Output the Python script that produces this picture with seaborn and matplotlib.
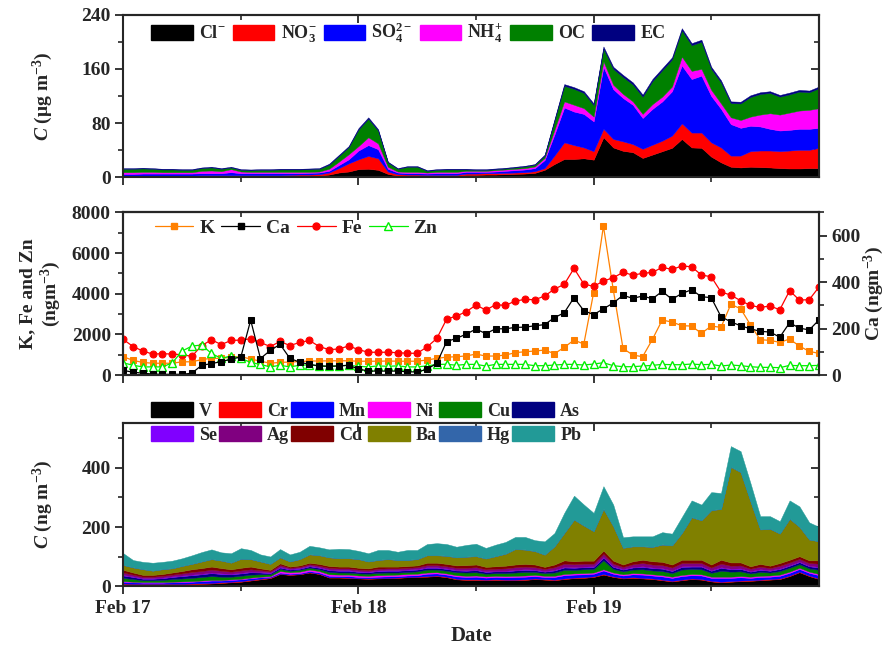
import matplotlib
matplotlib.use('Agg')
import matplotlib.pyplot as plt
import seaborn as sns
from matplotlib.patches import Patch
from matplotlib.lines import Line2D
from matplotlib.ticker import MultipleLocator, FixedLocator, NullFormatter

# ---------------- data (hourly, Feb 17 00:00 .. Feb 19 23:00) ----------------
hours = list(range(72))
day_ticks = [0, 24, 48]
day_labels = ['Feb 17', 'Feb 18', 'Feb 19']

# top panel, ug m-3
cl = [1.0, 1.0, 1.0, 1.0, 1.0, 1.0, 1.0, 1.0, 1.5, 1.5, 1.5, 1.5, 1.5, 1.5, 1.5, 1.5, 1.5, 2.0, 2.0, 2.0,
      2.5, 4.0, 7.0, 8.5, 12.0, 12.5, 11.0, 5.0, 2.5, 2.0, 2.0, 2.0, 2.0, 2.0, 2.0, 3.5, 3.5, 4.0, 4.0, 4.5,
      5.0, 5.5, 6.5, 11.0, 19.5, 27.0, 27.0, 28.0, 26.0, 59.0, 44.0, 39.0, 37.0, 28.5, 33.5, 38.5, 43.5, 56.5, 44.0, 43.5,
      30.5, 22.0, 15.5, 14.5, 15.5, 15.0, 14.5, 13.5, 13.0, 13.0, 13.5, 13.5]
no3 = [1.5, 1.5, 1.5, 1.5, 1.5, 1.5, 1.5, 1.5, 1.5, 1.5, 1.5, 1.5, 1.5, 1.5, 1.5, 1.5, 1.5, 1.5, 2.0, 2.0,
       2.0, 3.0, 6.5, 12.0, 14.5, 19.0, 17.0, 3.5, 2.0, 2.0, 2.0, 1.5, 1.5, 1.5, 1.5, 2.0, 2.0, 2.0, 2.0, 2.0,
       2.0, 2.0, 2.5, 2.5, 12.5, 24.5, 20.5, 16.0, 12.5, 12.5, 12.5, 14.0, 12.0, 13.5, 14.5, 15.5, 18.0, 23.0, 22.0, 22.5,
       21.0, 22.0, 16.5, 17.5, 23.0, 24.5, 25.0, 25.0, 26.5, 27.5, 27.0, 30.0]
so4 = [2.5, 2.5, 3.0, 3.0, 3.0, 3.0, 3.0, 3.0, 3.0, 3.0, 3.0, 4.5, 3.0, 3.0, 3.0, 3.0, 3.0, 2.5, 2.0, 2.5,
       2.5, 2.5, 4.5, 6.0, 13.0, 16.0, 13.5, 4.0, 2.5, 2.0, 2.0, 2.0, 2.5, 2.5, 2.5, 2.5, 2.5, 2.0, 2.5, 3.0,
       3.5, 4.0, 4.5, 12.0, 31.0, 51.5, 49.5, 49.5, 44.0, 91.5, 73.5, 64.0, 58.0, 45.5, 53.0, 58.0, 65.5, 85.5, 79.0, 84.0,
       68.5, 57.0, 46.5, 41.0, 37.5, 35.5, 32.0, 30.5, 30.5, 31.0, 31.0, 29.5]
nh4 = [2.5, 2.5, 2.5, 2.5, 2.0, 2.0, 2.0, 2.0, 3.5, 4.0, 3.0, 4.5, 2.5, 2.0, 2.0, 2.0, 2.0, 2.0, 2.0, 1.5,
       1.5, 3.0, 5.0, 7.5, 6.5, 11.5, 8.5, 3.0, 1.5, 2.0, 2.0, 1.5, 2.0, 2.0, 2.0, 1.5, 1.5, 1.5, 2.0, 2.0,
       2.0, 2.0, 2.5, 3.0, 7.0, 9.0, 10.0, 8.5, 7.0, 8.0, 6.5, 6.0, 5.0, 6.0, 7.0, 7.0, 7.0, 13.0, 12.0, 10.0,
       9.0, 8.0, 10.0, 11.5, 13.5, 17.5, 23.0, 23.5, 25.5, 27.0, 28.0, 29.0]
oc = [5.0, 5.0, 5.0, 4.5, 4.0, 4.0, 3.5, 3.5, 4.0, 4.5, 3.5, 2.5, 2.5, 2.5, 3.0, 3.0, 3.5, 3.5, 3.5, 4.0,
      4.0, 6.0, 8.5, 10.5, 24.5, 27.5, 19.0, 6.5, 4.0, 7.5, 7.5, 2.5, 3.0, 3.5, 3.5, 2.0, 1.5, 1.5, 1.5, 1.5,
      2.0, 2.5, 2.5, 3.5, 13.5, 23.0, 23.5, 22.5, 17.0, 19.0, 23.5, 25.0, 25.0, 25.5, 34.0, 39.0, 40.0, 39.0, 38.0, 40.0,
      31.0, 31.0, 21.0, 24.5, 29.0, 30.5, 30.0, 26.5, 27.0, 28.0, 26.0, 29.5]
ec = [1.0, 1.0, 1.0, 1.0, 1.0, 1.0, 1.0, 1.0, 1.0, 1.0, 1.0, 1.0, 1.0, 1.0, 1.0, 1.0, 1.0, 1.0, 1.0, 1.0,
      1.0, 1.5, 1.5, 1.5, 2.0, 2.0, 2.0, 1.0, 1.0, 1.0, 1.0, 1.0, 1.0, 1.0, 1.0, 1.0, 1.0, 1.0, 1.0, 1.0,
      1.0, 1.0, 1.0, 1.5, 2.0, 2.5, 2.5, 2.5, 2.5, 3.0, 3.0, 3.0, 3.0, 3.0, 3.0, 3.0, 3.0, 3.0, 3.0, 3.0,
      3.0, 3.0, 2.5, 2.5, 2.5, 2.5, 2.5, 2.5, 2.5, 2.5, 2.5, 2.5]

# middle panel, ng m-3
k_vals = [900, 720, 620, 580, 580, 580, 650, 650, 760, 820, 820, 880, 900, 790, 680, 580, 620, 640, 660, 690,
          690, 700, 700, 700, 680, 680, 680, 690, 680, 680, 680, 740, 820, 880, 900, 940, 1030, 934, 934, 983,
          1098, 1147, 1180, 1229, 1049, 1360, 1721, 1524, 4048, 7326, 4212, 1311, 983, 901, 1754, 2704, 2606, 2426, 2409, 2049,
          2409, 2344, 3475, 3262, 2475, 1737, 1705, 1606, 1770, 1426, 1164, 1065]
ca_vals = [20, 12, 8, 4, 3, 3, 3, 8, 42, 49, 58, 68, 78, 236, 71, 106, 132, 72, 55, 46,
           39, 38, 39, 42, 26, 17, 17, 17, 17, 14, 13, 25, 51, 144, 158, 176, 198, 178, 199, 199,
           205, 206, 212, 217, 247, 268, 333, 277, 260, 285, 310, 343, 330, 340, 328, 360, 326, 351, 367, 337,
           333, 251, 229, 212, 199, 188, 185, 163, 225, 202, 194, 237]
fe_vals = [1750, 1400, 1180, 1030, 1050, 1030, 1000, 920, 1450, 1730, 1500, 1700, 1720, 1780, 1600, 1400, 1650, 1450, 1600, 1700,
           1400, 1250, 1280, 1430, 1250, 1120, 1120, 1120, 1100, 1070, 1070, 1380, 1800, 2750, 2901, 3114, 3442, 3196, 3458, 3425,
           3639, 3720, 3704, 3884, 4229, 4458, 5245, 4474, 4360, 4622, 4786, 5048, 4917, 4999, 5048, 5294, 5196, 5360, 5327, 4917,
           4835, 4081, 3934, 3655, 3425, 3327, 3393, 3212, 4147, 3688, 3704, 4327]
zn_vals = [600, 480, 400, 400, 400, 600, 1180, 1420, 1480, 1060, 820, 940, 820, 620, 520, 400, 480, 400, 480, 500,
           450, 420, 450, 480, 430, 400, 450, 430, 450, 400, 400, 450, 520, 530, 480, 524, 524, 443, 524, 524,
           524, 524, 459, 459, 492, 524, 524, 492, 541, 606, 459, 410, 410, 443, 475, 524, 508, 508, 541, 508,
           524, 443, 492, 459, 410, 377, 377, 361, 475, 459, 459, 475]

# bottom panel, ng m-3
v_vals = [8, 7, 7, 7, 7, 7, 7, 8, 9, 10, 12, 14, 16, 20, 24, 28, 42, 39, 41, 47,
          42, 30, 30, 29, 27, 26, 27, 28, 29, 31, 32, 33, 35, 31, 24, 22, 22, 21, 22, 21,
          21, 22, 25, 23, 21, 25, 28, 29, 32, 40, 32, 27, 29, 27, 25, 21, 17, 21, 25, 23,
          17, 14, 16, 18, 19, 21, 23, 25, 35, 48, 35, 25]
cr_vals = [2, 2, 2, 2, 2, 2, 2, 2, 2, 2, 2, 2, 2, 2, 2, 2, 1, 1, 1, 1,
           1, 1, 1, 1, 1, 1, 1, 1, 1, 1, 1, 2, 2, 2, 2, 2, 2, 2, 2, 2,
           2, 2, 2, 2, 2, 2, 2, 2, 2, 2, 2, 2, 2, 2, 2, 2, 2, 2, 2, 2,
           2, 2, 2, 2, 2, 2, 2, 2, 2, 2, 2, 2]
mn_vals = [6, 5, 4, 4, 4, 5, 6, 6, 7, 8, 6, 6, 6, 6, 5, 3, 4, 3, 3, 4,
           4, 5, 4, 5, 4, 4, 5, 5, 5, 5, 5, 8, 7, 7, 8, 8, 9, 7, 8, 8,
           9, 9, 8, 7, 9, 11, 10, 10, 9, 12, 9, 8, 10, 11, 10, 11, 10, 12, 11, 12,
           10, 13, 11, 11, 8, 9, 8, 9, 9, 9, 9, 11]
ni_vals = [2, 2, 2, 2, 2, 2, 2, 2, 2, 2, 2, 2, 2, 2, 2, 2, 5, 5, 5, 5,
           5, 5, 5, 5, 5, 5, 5, 5, 5, 5, 5, 4, 4, 4, 4, 4, 4, 4, 4, 4,
           4, 4, 4, 4, 4, 4, 4, 4, 4, 4, 4, 4, 4, 4, 4, 4, 4, 4, 4, 4,
           4, 4, 4, 4, 4, 4, 4, 4, 4, 4, 4, 4]
cu_vals = [11, 9, 6, 6, 7, 9, 10, 11, 12, 13, 11, 9, 10, 10, 8, 6, 7, 5, 6, 6,
           6, 8, 7, 7, 7, 7, 8, 8, 7, 7, 8, 10, 9, 9, 10, 11, 11, 9, 9, 10,
           11, 12, 10, 9, 11, 14, 12, 13, 12, 30, 12, 10, 12, 14, 13, 14, 12, 18, 17, 17,
           13, 20, 17, 16, 11, 13, 10, 12, 13, 12, 11, 14]
as_vals = [8, 7, 5, 5, 6, 7, 8, 9, 9, 10, 9, 8, 8, 8, 6, 4, 5, 4, 4, 5,
           5, 6, 6, 6, 5, 5, 6, 6, 6, 6, 6, 6, 6, 6, 6, 6, 7, 6, 6, 6,
           7, 7, 6, 5, 7, 8, 7, 7, 7, 9, 7, 6, 7, 8, 8, 8, 7, 9, 8, 9,
           7, 10, 8, 8, 6, 7, 6, 7, 7, 7, 7, 8]
se_vals = [2, 2, 2, 2, 2, 2, 2, 2, 2, 2, 2, 2, 2, 2, 2, 2, 2, 2, 2, 2,
           2, 2, 2, 2, 2, 2, 2, 2, 2, 2, 2, 2, 2, 2, 2, 2, 2, 2, 2, 2,
           2, 2, 2, 2, 2, 2, 2, 2, 2, 2, 2, 2, 2, 2, 2, 2, 2, 2, 2, 2,
           2, 2, 2, 2, 2, 2, 2, 2, 2, 2, 2, 2]
ag_vals = [8, 6, 5, 5, 6, 6, 7, 9, 9, 10, 9, 7, 8, 8, 6, 4, 6, 4, 4, 5,
           5, 6, 6, 6, 6, 5, 6, 6, 6, 6, 6, 7, 7, 7, 7, 8, 8, 7, 7, 8,
           9, 9, 8, 7, 9, 11, 10, 10, 9, 11, 9, 7, 9, 11, 10, 10, 10, 11, 10, 10,
           9, 12, 10, 10, 8, 9, 7, 9, 9, 9, 9, 11]
cd_vals = [9, 7, 6, 6, 6, 7, 8, 9, 10, 10, 9, 8, 9, 9, 6, 5, 6, 4, 5, 5,
           6, 6, 6, 6, 6, 6, 7, 6, 6, 6, 6, 8, 8, 8, 8, 9, 9, 8, 8, 9,
           9, 9, 9, 7, 9, 11, 10, 10, 10, 11, 10, 8, 10, 11, 11, 11, 10, 11, 11, 11,
           10, 13, 11, 10, 8, 9, 8, 9, 9, 9, 9, 11]
ba_vals = [16, 17, 19, 14, 16, 14, 17, 18, 22, 25, 25, 22, 30, 25, 23, 20, 20, 17, 21, 28,
           29, 29, 28, 28, 29, 23, 22, 25, 22, 20, 21, 25, 25, 27, 27, 28, 28, 28, 34, 40,
           52, 48, 45, 41, 61, 92, 140, 118, 99, 140, 116, 56, 50, 45, 48, 58, 64, 90, 143, 133,
           183, 171, 322, 304, 219, 116, 124, 99, 138, 99, 70, 64]
hg_vals = [1, 1, 1, 1, 1, 1, 1, 1, 1, 1, 1, 1, 1, 1, 1, 1, 1, 1, 1, 1,
           1, 1, 1, 1, 1, 1, 1, 1, 1, 1, 1, 1, 1, 1, 1, 1, 1, 1, 1, 1,
           1, 1, 1, 1, 1, 1, 1, 1, 1, 1, 1, 1, 1, 1, 1, 1, 1, 1, 1, 1,
           1, 1, 1, 1, 1, 1, 1, 1, 1, 1, 1, 1]
pb_vals = [39, 24, 24, 26, 24, 25, 25, 28, 31, 32, 27, 31, 35, 30, 23, 24, 27, 23, 24, 28,
           26, 26, 31, 30, 27, 27, 33, 30, 27, 33, 30, 37, 40, 39, 35, 39, 41, 35, 38, 39,
           40, 42, 36, 44, 44, 67, 80, 70, 61, 76, 72, 35, 33, 33, 35, 41, 39, 53, 56, 52,
           60, 53, 69, 70, 61, 44, 42, 41, 61, 68, 57, 48]

ion_labels = [r'Cl$^{-}$', r'NO$_3^{-}$', r'SO$_4^{2-}$', r'NH$_4^{+}$', 'OC', 'EC']
ion_colors = ['#000000', '#ff0000', '#0000ff', '#ff00ff', '#008000', '#000080']
metal_labels = ['V', 'Cr', 'Mn', 'Ni', 'Cu', 'As', 'Se', 'Ag', 'Cd', 'Ba', 'Hg', 'Pb']
metal_colors = ['#000000', '#ff0000', '#0000ff', '#ff00ff', '#008000', '#000080',
                '#8000ff', '#800080', '#800000', '#808000', '#3366aa', '#229a97']

# ---------------- style ----------------
sns.set_theme(style='ticks')
plt.rcParams['font.family'] = ['Liberation Serif', 'DejaVu Serif']
plt.rcParams['font.weight'] = 'bold'
plt.rcParams['axes.labelweight'] = 'bold'
plt.rcParams['mathtext.fontset'] = 'custom'
plt.rcParams['mathtext.rm'] = 'Liberation Serif:bold'
plt.rcParams['mathtext.it'] = 'Liberation Serif:italic:bold'
plt.rcParams['mathtext.bf'] = 'Liberation Serif:bold'
plt.rcParams['mathtext.default'] = 'rm'
plt.rcParams['axes.linewidth'] = 1.5

FS = 14
LFS = 13
fig = plt.figure(figsize=(8.94, 6.52), dpi=100)
L, W = 0.1379, 0.7782
ax1 = fig.add_axes([L, 0.7281, W, 0.2494])
ax2 = fig.add_axes([L, 0.4248, W, 0.2495])
ax3 = fig.add_axes([L, 0.1005, W, 0.2503])


def style_x(ax, labels):
    ax.set_xlim(0, 71)
    ax.xaxis.set_major_locator(FixedLocator(day_ticks))
    ax.xaxis.set_minor_locator(FixedLocator([12, 36, 60]))
    if labels:
        ax.set_xticklabels(day_labels)
    else:
        ax.set_xticklabels([])
    ax.tick_params(axis='x', which='major', direction='out', length=6, width=1.3,
                   labelsize=FS, top=False, pad=4)
    ax.tick_params(axis='x', which='minor', direction='out', length=3.5, width=1.2, top=False)
    sec = ax.secondary_xaxis('top')
    sec.xaxis.set_major_locator(FixedLocator(day_ticks))
    sec.xaxis.set_minor_locator(FixedLocator([12, 36, 60]))
    sec.tick_params(axis='x', which='major', direction='in', length=6, width=1.3, labeltop=False)
    sec.tick_params(axis='x', which='minor', direction='in', length=3.5, width=1.2)
    sec.xaxis.set_major_formatter(NullFormatter())
    sec.spines['top'].set_linewidth(1.5)


def style_y(ax, major, minor, mirror=True):
    ax.yaxis.set_major_locator(MultipleLocator(major))
    ax.yaxis.set_minor_locator(MultipleLocator(minor))
    ax.tick_params(axis='y', which='major', direction='out', length=6, width=1.3,
                   labelsize=FS, right=False, pad=3)
    ax.tick_params(axis='y', which='minor', direction='out', length=3.5, width=1.2, right=False)
    if mirror:
        sec = ax.secondary_yaxis('right')
        sec.yaxis.set_major_locator(MultipleLocator(major))
        sec.yaxis.set_minor_locator(MultipleLocator(minor))
        sec.tick_params(axis='y', which='major', direction='in', length=6, width=1.3, labelright=False)
        sec.tick_params(axis='y', which='minor', direction='in', length=3.5, width=1.2)
        sec.yaxis.set_major_formatter(NullFormatter())
        sec.spines['right'].set_linewidth(1.5)


# ---------------- top panel ----------------
ax1.stackplot(hours, cl, no3, so4, nh4, oc, ec, colors=ion_colors, linewidth=0.3,
              edgecolor='face')
ax1.set_ylim(0, 240)
style_x(ax1, False)
style_y(ax1, 80, 40)
ax1.set_ylabel(r'$\mathit{C}$ (μg m$^{-3}$)', fontsize=FS)
ax1.yaxis.set_label_coords(-0.098, 0.5)
h1 = [Patch(facecolor=c, edgecolor=c) for c in ion_colors]
ax1.legend(h1, ion_labels, loc='upper left', bbox_to_anchor=(0.04, 0.965), ncol=6,
           frameon=False, fontsize=LFS, handlelength=2.3, handleheight=0.9,
           handletextpad=0.35, columnspacing=0.4, borderpad=0, borderaxespad=0)

# ---------------- middle panel ----------------
K_COL, FE_COL, ZN_COL = '#ff8000', '#ff0000', '#00ee00'
sns.lineplot(x=hours, y=k_vals, ax=ax2, color=K_COL, marker='s', markersize=4.5,
             markeredgecolor=K_COL, linewidth=0.9, zorder=3)
sns.lineplot(x=hours, y=fe_vals, ax=ax2, color=FE_COL, marker='o', markersize=5,
             markeredgecolor=FE_COL, linewidth=0.9, zorder=4)
sns.lineplot(x=hours, y=zn_vals, ax=ax2, color=ZN_COL, marker='^', markersize=5.5,
             markerfacecolor='white', markeredgecolor=ZN_COL, markeredgewidth=1.0,
             linewidth=0.9, zorder=5)
ax2.set_ylim(0, 8000)
style_x(ax2, False)
style_y(ax2, 2000, 1000, mirror=False)
ax2.set_ylabel('K, Fe and Zn\n(ngm$^{-3}$)', fontsize=FS, linespacing=1.1)
ax2.yaxis.set_label_coords(-0.087, 0.5)

axr = ax2.twinx()
sns.lineplot(x=hours, y=ca_vals, ax=axr, color='black', marker='s', markersize=4.5,
             markeredgecolor='black', linewidth=0.9)
axr.set_ylim(0, 700)
axr.yaxis.set_major_locator(MultipleLocator(200))
axr.yaxis.set_minor_locator(MultipleLocator(100))
axr.tick_params(axis='y', which='major', direction='out', length=6, width=1.3, labelsize=FS, pad=3)
axr.tick_params(axis='y', which='minor', direction='out', length=3.5, width=1.2)
axr.set_ylabel('Ca (ngm$^{-3}$)', fontsize=FS)
axr.yaxis.set_label_coords(1.062, 0.5)
for s in axr.spines.values():
    s.set_linewidth(1.5)
h2 = [Line2D([], [], color=K_COL, marker='s', markersize=4.5, lw=0.9),
      Line2D([], [], color='black', marker='s', markersize=4.5, lw=0.9),
      Line2D([], [], color=FE_COL, marker='o', markersize=5, lw=0.9),
      Line2D([], [], color=ZN_COL, marker='^', markersize=5.5, lw=0.9,
             markerfacecolor='white', markeredgecolor=ZN_COL)]
axr.legend(h2, ['K', 'Ca', 'Fe', 'Zn'], loc='upper left', bbox_to_anchor=(0.045, 0.955),
           ncol=4, frameon=False, fontsize=FS, handlelength=2.0, handletextpad=0.3,
           columnspacing=0.35, borderpad=0, borderaxespad=0)

# ---------------- bottom panel ----------------
ax3.stackplot(hours, v_vals, cr_vals, mn_vals, ni_vals, cu_vals, as_vals, se_vals,
              ag_vals, cd_vals, ba_vals, hg_vals, pb_vals, colors=metal_colors,
              linewidth=0.3, edgecolor='face')
ax3.set_ylim(0, 550)
style_x(ax3, True)
style_y(ax3, 200, 100)
ax3.set_ylabel(r'$\mathit{C}$ (ng m$^{-3}$)', fontsize=FS)
ax3.yaxis.set_label_coords(-0.098, 0.5)
ax3.set_xlabel('Date', fontsize=15)
ax3.xaxis.set_label_coords(0.5, -0.245)
h3 = [Patch(facecolor=c, edgecolor=c) for c in metal_colors]
order = [0, 6, 1, 7, 2, 8, 3, 9, 4, 10, 5, 11]
leg3 = ax3.legend([h3[i] for i in order], [metal_labels[i] for i in order],
                  loc='upper left', bbox_to_anchor=(0.04, 1.128), ncol=6, frameon=False,
                  fontsize=LFS, handlelength=2.3, handleheight=0.9, handletextpad=0.35,
                  columnspacing=0.12, labelspacing=0.32, borderpad=0, borderaxespad=0)

fig.savefig('out.png', dpi=100)
